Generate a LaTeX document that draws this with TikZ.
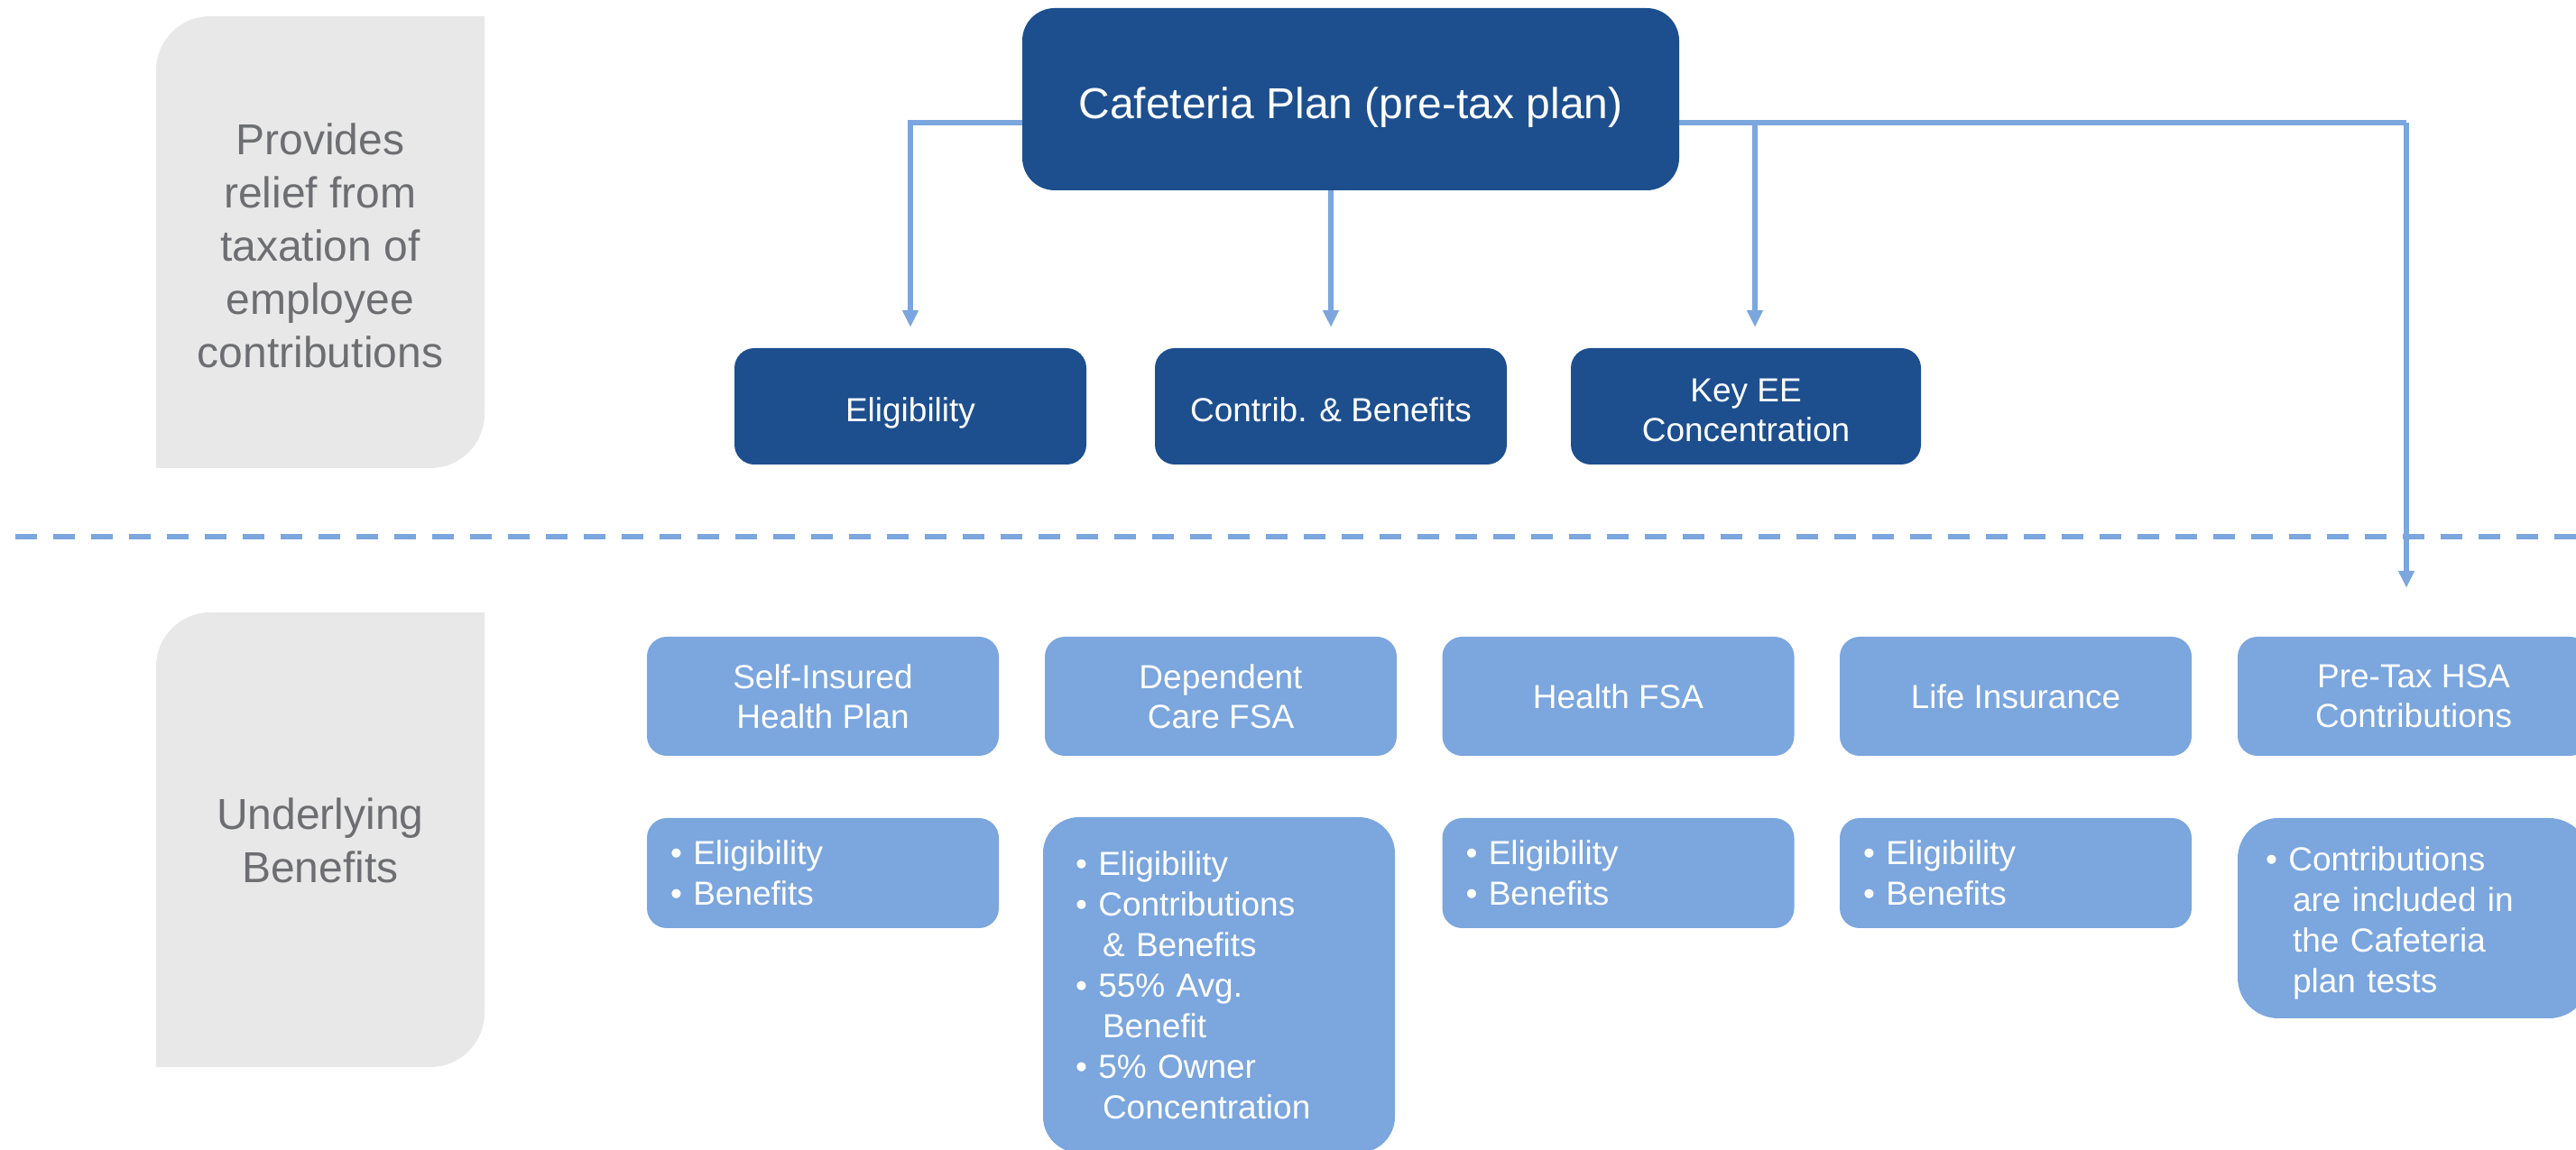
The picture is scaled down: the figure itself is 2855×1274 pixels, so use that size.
\documentclass[tikz,border=0pt]{standalone}
\usepackage{fontspec}
\setmainfont{Liberation Sans}
\usetikzlibrary{arrows.meta,calc}

\definecolor{navy}{HTML}{1D4F8F}
\definecolor{sky}{HTML}{7BA6DE}
\definecolor{panelgray}{HTML}{E8E8E8}
\definecolor{slate}{HTML}{6D6E71}

% indent for wrapped bullet lines
\newcommand{\contline}{\hspace*{30pt}}

\begin{document}
\begin{tikzpicture}[x=1pt,y=1pt,
  planbox/.style={fill=navy, rounded corners=36pt, minimum width=728pt,
    minimum height=202pt, inner sep=0pt, text=white,
    text height=53pt, text depth=10.2pt,
    font=\fontsize{48}{58}\selectfont},
  testbox/.style={fill=navy, rounded corners=22pt, minimum width=390pt,
    minimum height=129pt, inner sep=0pt, text=white, align=center,
    font=\fontsize{37}{44}\selectfont},
  lowtext/.style={text height=42pt, text depth=7.5pt},
  benefitbox/.style={fill=sky, rounded corners=22pt, minimum width=390pt,
    minimum height=132pt, inner sep=0pt, text=white, align=center,
    font=\fontsize{37}{44}\selectfont},
  detailbox/.style={fill=sky, rounded corners=22pt, text=white, align=left,
    inner xsep=26pt, inner ysep=0pt, text width=338pt, minimum height=122pt,
    font=\fontsize{37}{45}\selectfont},
  sidetext/.style={text=slate, align=center, inner sep=0pt,
    font=\fontsize{48}{59}\selectfont},
  branch/.style={draw=sky, line width=6pt},
  feed/.style={-{Triangle[length=19pt,width=17pt]}}
]
\useasboundingbox (0,0) rectangle (2855,1274);
\clip (0,0) rectangle (2855,1274);

% side panels: rounded at top-left and bottom-right only
\fill[panelgray] (537,1256) -- (233,1256)
  arc[start angle=90,end angle=180,radius=60pt] -- (173,755) -- (477,755)
  arc[start angle=270,end angle=360,radius=60pt] -- cycle;
\node[sidetext] (relief) at (355,1002)
  {Provides\\relief from\\taxation of\\employee\\contributions};

\fill[panelgray] (537,595) -- (233,595)
  arc[start angle=90,end angle=180,radius=60pt] -- (173,91) -- (477,91)
  arc[start angle=270,end angle=360,radius=60pt] -- cycle;
\node[sidetext] (under) at (355,342) {Underlying\\Benefits};

% divider between plan-level tests and underlying benefits
\draw[sky, line width=6pt, dash pattern=on 24pt off 18pt] (-25.3,679) -- (2870,679);

% cafeteria plan and its tests
\node[planbox] (plan) at (1497,1164) {Cafeteria Plan (pre-tax plan)};
\node[testbox, lowtext] (elig) at (1009,823.5) {Eligibility};
\node[testbox, lowtext] (contrib) at (1475,823.5) {Contrib. \& Benefits};
\node[testbox, minimum width=388pt] (keyee) at (1935,823.5)
  {\rule{0pt}{34pt}Key EE\\Concentration};

% underlying benefits
\node[benefitbox] (selfins) at (912,502) {Self-Insured\\Health Plan};
\node[benefitbox] (depcare) at (1353,502) {Dependent\\Care FSA};
\node[benefitbox] (healthfsa) at (1793.5,502) {Health FSA};
\node[benefitbox] (life) at (2234,502) {Life Insurance};
\node[benefitbox] (hsa) at (2675,502) {Pre-Tax HSA\\Contributions};

% tests applying to each benefit
\node[detailbox] (selfinsd) at (912,306)
  {\textbullet\ Eligibility\\\textbullet\ Benefits};
\node[detailbox, rounded corners=40pt, inner xsep=36pt, text width=318pt,
  minimum height=372pt] (depcared) at (1351,182)
  {\textbullet\ Eligibility\\\textbullet\ Contributions\\\contline\&~Benefits\\
   \textbullet\ 55\%~Avg.\\\contline Benefit\\\textbullet\ 5\%~Owner\\\contline Concentration};
\node[detailbox] (healthfsad) at (1793.5,306)
  {\textbullet\ Eligibility\\\textbullet\ Benefits};
\node[detailbox] (lifed) at (2234,306)
  {\textbullet\ Eligibility\\\textbullet\ Benefits};
\node[detailbox, rounded corners=45pt, inner xsep=31pt, text width=328pt,
  minimum height=222pt] (hsad) at (2675,256)
  {\rule{0pt}{37pt}\textbullet\ Contributions\\\contline are included in\\\contline the Cafeteria\\\contline plan tests};

% connectors from the plan
\coordinate (busK) at (1945,1138);
\coordinate (busH) at (2667,1138);
\draw[branch, feed, shorten >=23pt] ($(plan.west)+(0,-26)$) -| (elig.north);
\draw[branch, feed, shorten >=23pt] (contrib.north |- plan.south) -- (contrib.north);
\draw[branch] ($(plan.east)+(0,-26)$) -- (busH);
\draw[branch, feed, shorten >=23pt] (busK) -- (busK |- keyee.north);
\draw[branch, feed, shorten >=54pt] (busH) -- (busH |- hsa.north);
\end{tikzpicture}
\end{document}
